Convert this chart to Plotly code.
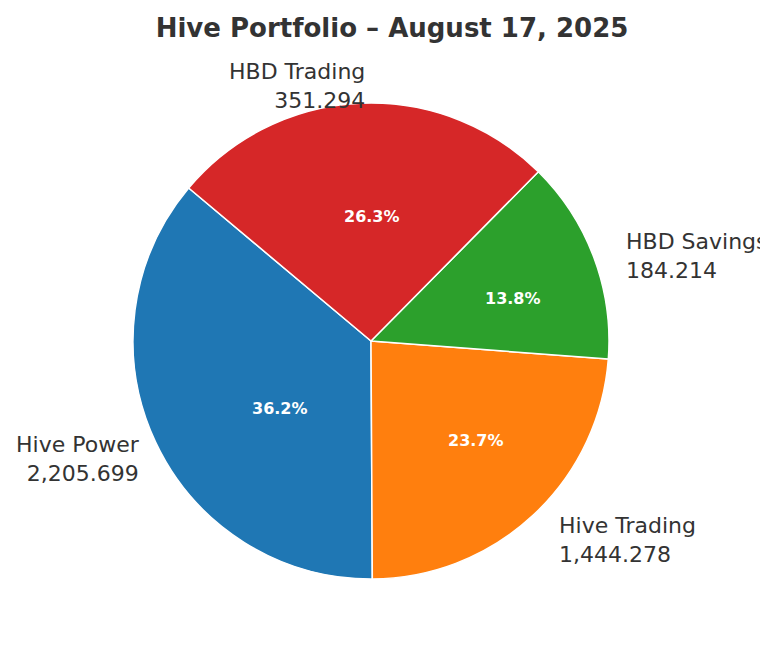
import math
import plotly.graph_objects as go

labels = ["Hive Power", "Hive Trading", "HBD Savings", "HBD Trading"]
amounts = ["2,205.699", "1,444.278", "184.214", "351.294"]
shares = [36.2, 23.7, 13.8, 26.3]
colors = ["#1f77b4", "#ff7f0e", "#2ca02c", "#d62728"]

W, H = 768, 652
CX, CY, R = 371, 340, 238
START = 140.0
DX, DY = -8, -7  # renderer offset compensation

total = sum(shares)
fig = go.Figure(go.Pie(
    labels=labels, values=shares, sort=False, direction="counterclockwise",
    rotation=-(START - 90) - 360 * shares[0] / total, textinfo="none", hoverinfo="label+percent",
    marker=dict(colors=colors, line=dict(color="white", width=1.5)),
    domain=dict(x=[(CX + DX - R) / W, (CX + DX + R) / W],
                y=[1 - (CY + DY + R) / H, 1 - (CY + DY - R) / H]),
    showlegend=False,
))

ang = START
anns = []
for lab, amt, s in zip(labels, amounts, shares):
    span = 360 * s / total
    mid = math.radians(ang + span / 2)
    ang += span
    c, sn = math.cos(mid), math.sin(mid)
    anns.append(dict(x=(CX + 0.6 * R * c) / W, y=1 - (CY - 0.6 * R * sn) / H, xref="paper", yref="paper",
                     text=f"<b>{s:.1f}%</b>", showarrow=False,
                     font=dict(size=16, color="white", family="DejaVu Sans")))
    anns.append(dict(x=(CX + 1.1 * R * c) / W, y=1 - (CY - 1.1 * R * sn) / H, xref="paper", yref="paper",
                     text=f"{lab}<br>{amt}", showarrow=False, align="left" if c > 0 else "right",
                     xanchor="left" if c > 0 else "right", yanchor="middle",
                     font=dict(size=22, color="#333333", family="DejaVu Sans")))

fig.update_layout(
    width=W, height=H, margin=dict(l=0, r=0, t=0, b=0), paper_bgcolor="white",
    title=dict(text="<b>Hive Portfolio – August 17, 2025</b>", x=0.5, y=1 - 20 / H, xanchor="center", yanchor="middle",
               font=dict(size=26, color="#333333", family="DejaVu Sans")),
    annotations=anns,
)
fig.write_html("out.html")
